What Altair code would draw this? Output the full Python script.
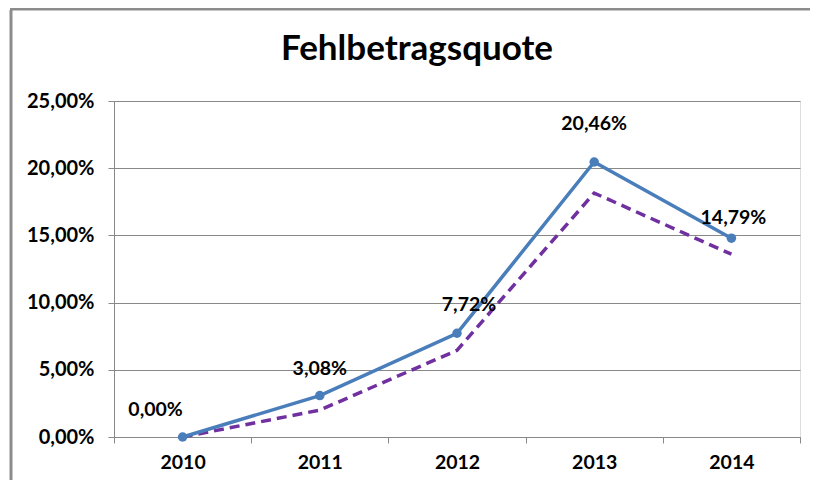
import altair as alt
import pandas as pd

years = ["2010", "2011", "2012", "2013", "2014"]
quote = [0.00, 3.08, 7.72, 20.46, 14.79]
quote2 = [0.00, 2.00, 6.45, 18.15, 13.60]

df = pd.DataFrame({"year": years, "q": quote, "q2": quote2})

FONT = "Lato"
W, H = 686, 336
PT, PL, PB = 93, 106, 43

xenc = alt.X("year:N", title=None, sort=years,
             scale=alt.Scale(type="band", paddingInner=0, paddingOuter=0),
             axis=alt.Axis(tickBand="extent", labelFontSize=19.5, labelFontWeight="bold",
                           labelColor="black", labelFont=FONT, labelPadding=10,
                           domainColor="#888888", tickColor="#888888", tickSize=6,
                           labelAngle=0, grid=False))
yscale = alt.Scale(domain=[0, 25], nice=False, zero=True)
yaxis = alt.Axis(values=[0, 5, 10, 15, 20, 25], title=None,
                 labelExpr="replace(format(datum.value/100, '.2%'), '.', ',')",
                 labelFontSize=20, labelFontWeight="bold", labelColor="black",
                 labelFont=FONT, labelPadding=14, tickSize=6, tickColor="#888888",
                 domainColor="#888888", gridColor="#888888", gridWidth=1)

base = alt.Chart(df)

border = base.mark_rule(stroke="#8c8c8c", strokeWidth=3).encode(
    x=alt.value(-103), y=alt.value(-PT + 2), y2=alt.value(H + PB)
).transform_filter("datum.year == '2010'")
border_top = base.mark_rule(stroke="#8c8c8c", strokeWidth=3).encode(
    x=alt.value(-104), x2=alt.value(W + 10), y=alt.value(-PT + 1)
).transform_filter("datum.year == '2010'")

title = base.mark_text(text="Fehlbetragsquote", fontSize=35, fontWeight="bold", font=FONT,
                       color="black", align="center", baseline="middle").encode(
    x=alt.value(303), y=alt.value(-52)
).transform_filter("datum.year == '2010'")

grid = base.mark_line(opacity=0).encode(x=xenc, y=alt.Y("q:Q", scale=yscale, axis=yaxis))

dashed = base.mark_line(color="#7030A0", strokeWidth=3.5, strokeDash=[10, 6]).encode(
    x=alt.X("year:N", sort=years), y=alt.Y("q2:Q", scale=yscale))

solid = base.mark_line(color="#4A7EBB", strokeWidth=3.5,
                       point=alt.OverlayMarkDef(color="#4A7EBB", size=90, filled=True, opacity=1)).encode(
    x=alt.X("year:N", sort=years), y=alt.Y("q:Q", scale=yscale))

offsets = {"2010": (-27, -27), "2011": (0, -27), "2012": (12, -28), "2013": (0, -38), "2014": (2, -20)}
labels = []
for yr, (dx, dy) in offsets.items():
    labels.append(
        base.mark_text(fontSize=19.5, fontWeight="bold", font=FONT, color="black", dx=dx, dy=dy)
        .encode(x=alt.X("year:N", sort=years), y=alt.Y("q:Q", scale=yscale),
                text=alt.Text("lbl:N"))
        .transform_filter(f"datum.year == '{yr}'")
        .transform_calculate(lbl="replace(format(datum.q/100, '.2%'), '.', ',')")
    )

chart = alt.layer(border, border_top, title, grid, dashed, solid, *labels).properties(
    width=W, height=H,
    autosize=alt.AutoSizeParams(type="none"),
    padding={"left": PL, "top": PT, "right": 10, "bottom": PB},
).configure_view(stroke=None).configure(background="white")

chart.save("out.html", embed_options={"renderer": "svg", "actions": False})
